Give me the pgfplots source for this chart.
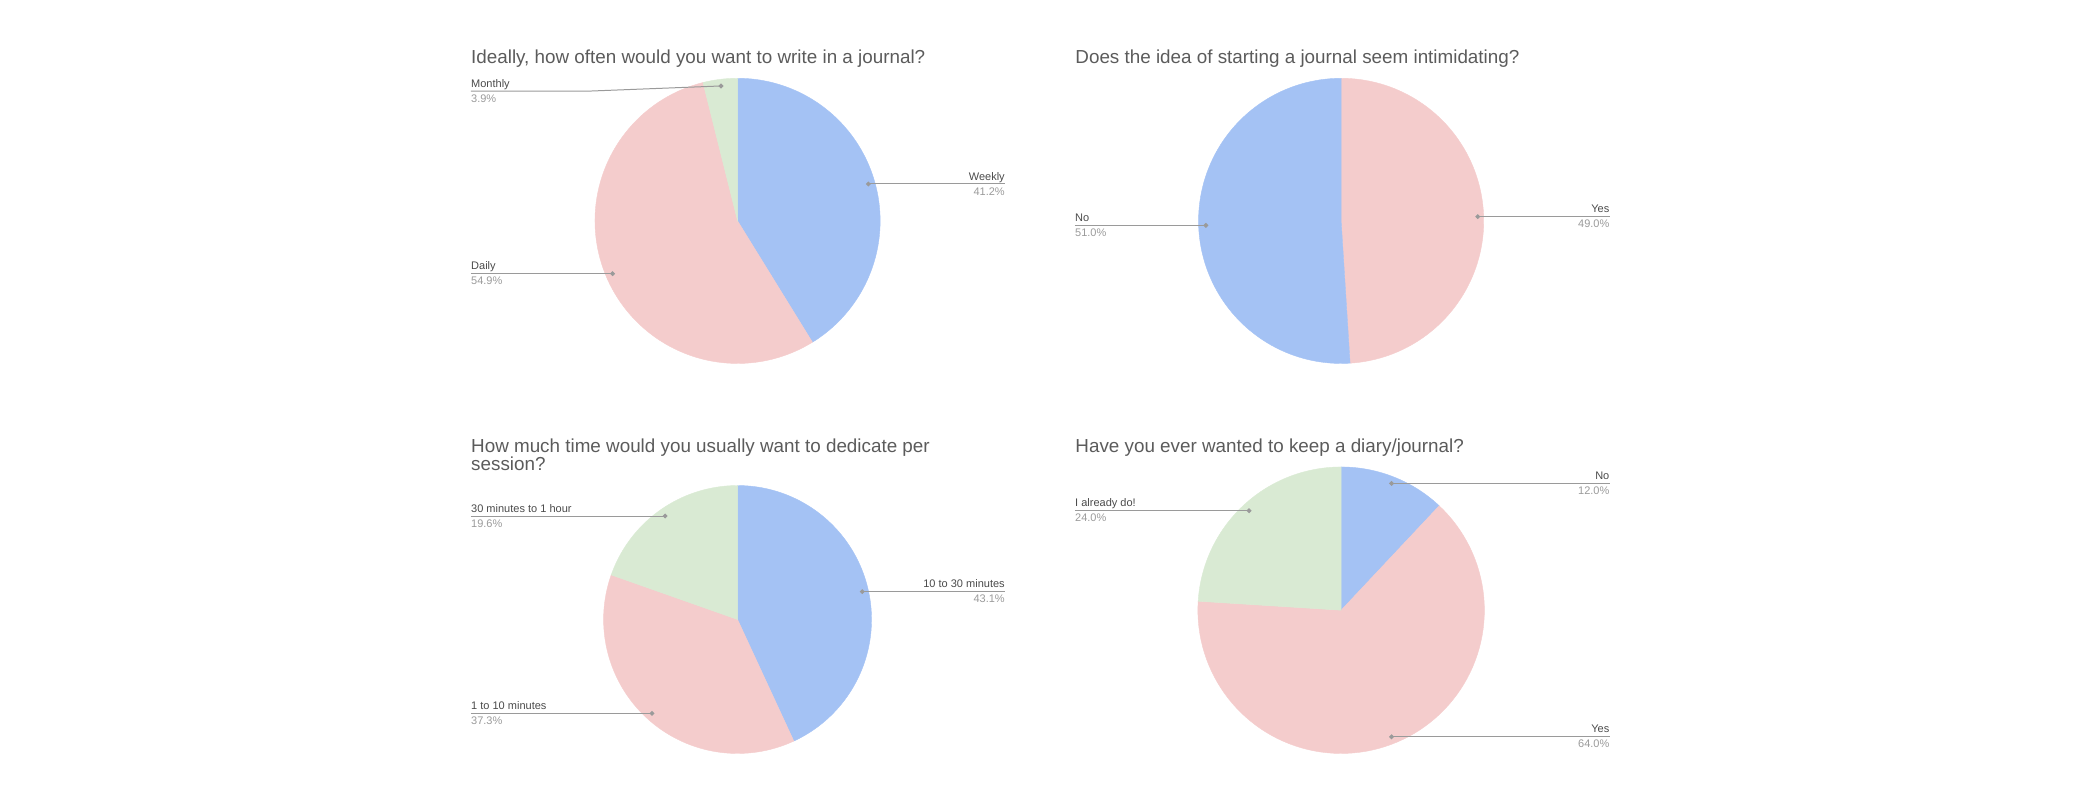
\documentclass[border=0pt]{standalone}
\usepackage{fontspec}
\setmainfont{Liberation Sans}
\usepackage{pgfplots}
\pgfplotsset{compat=1.18}
\definecolor{cblue}{HTML}{A4C2F4}
\definecolor{cpink}{HTML}{F4CCCC}
\definecolor{cgreen}{HTML}{D9EAD3}
\definecolor{ctitle}{HTML}{5B5B5B}
\definecolor{cname}{HTML}{4A4A4A}
\definecolor{cpct}{HTML}{9A9A9A}
\definecolor{cline}{HTML}{9A9A9A}
\newcommand{\tfont}{\fontsize{14.2}{17}\selectfont}
\newcommand{\lfont}{\fontsize{8.3}{10}\selectfont}
% label: x, line y, name, pct
\newcommand{\labL}[4]{%
  \node[anchor=base west,inner sep=0,text=cname,font=\lfont] at (axis cs:#1,#2-3) {#3};
  \node[anchor=base west,inner sep=0,text=cpct,font=\lfont] at (axis cs:#1,#2+8.3) {#4};}
\newcommand{\labR}[4]{%
  \node[anchor=base east,inner sep=0,text=cname,font=\lfont] at (axis cs:#1,#2-3) {#3};
  \node[anchor=base east,inner sep=0,text=cpct,font=\lfont] at (axis cs:#1,#2+8.3) {#4};}
\pgfplotsset{
  slice/.style={draw=#1, line width=0.3pt, fill=#1, samples=90},
  leader/.style={cline, line width=0.75pt, mark=*, mark size=1.4pt,
    mark options={fill=cline, draw=cline}},
}
\begin{document}
\begin{tikzpicture}
\begin{axis}[width=1568pt, height=603pt, scale only axis,
  xmin=0, xmax=1568, ymin=0, ymax=603, y dir=reverse,
  hide axis, clip=false]
\addplot[draw=none] coordinates {(0,0) (1568,603)};

% ---- Pie 1: Weekly 41.2, Daily 54.9, Monthly 3.9
\addplot[slice=cblue, domain=0:148.32] ({556+107.5*sin(x)},{166.5-107.5*cos(x)}) -- (axis cs:556,166.5) -- cycle;
\addplot[slice=cpink, domain=148.32:345.96] ({556+107.5*sin(x)},{166.5-107.5*cos(x)}) -- (axis cs:556,166.5) -- cycle;
\addplot[slice=cgreen, domain=345.96:360] ({556+107.5*sin(x)},{166.5-107.5*cos(x)}) -- (axis cs:556,166.5) -- cycle;

% ---- Pie 2: Yes 49.0, No 51.0
\addplot[slice=cpink, domain=0:176.4] ({1011+107.5*sin(x)},{166.5-107.5*cos(x)}) -- (axis cs:1011,166.5) -- cycle;
\addplot[slice=cblue, domain=176.4:360] ({1011+107.5*sin(x)},{166.5-107.5*cos(x)}) -- (axis cs:1011,166.5) -- cycle;

% ---- Pie 3: 10-30 min 43.1, 1-10 min 37.3, 30 min-1 h 19.6
\addplot[slice=cblue, domain=0:155.16] ({556+101*sin(x)},{467-101*cos(x)}) -- (axis cs:556,467) -- cycle;
\addplot[slice=cpink, domain=155.16:289.44] ({556+101*sin(x)},{467-101*cos(x)}) -- (axis cs:556,467) -- cycle;
\addplot[slice=cgreen, domain=289.44:360] ({556+101*sin(x)},{467-101*cos(x)}) -- (axis cs:556,467) -- cycle;

% ---- Pie 4: No 12.0, Yes 64.0, I already do! 24.0
\addplot[slice=cblue, domain=0:43.2] ({1011+108*sin(x)},{460-108*cos(x)}) -- (axis cs:1011,460) -- cycle;
\addplot[slice=cpink, domain=43.2:273.6] ({1011+108*sin(x)},{460-108*cos(x)}) -- (axis cs:1011,460) -- cycle;
\addplot[slice=cgreen, domain=273.6:360] ({1011+108*sin(x)},{460-108*cos(x)}) -- (axis cs:1011,460) -- cycle;

% ---- leader lines
\addplot[leader, mark indices={3}] coordinates {(355,68.6) (446,68.6) (543.5,64.8)};
\addplot[leader, mark indices={2}] coordinates {(757.6,138.7) (654.6,138.7)};
\addplot[leader, mark indices={2}] coordinates {(355,206.3) (461.8,206.3)};
\addplot[leader, mark indices={2}] coordinates {(1213.4,163.3) (1114,163.3)};
\addplot[leader, mark indices={2}] coordinates {(810.3,169.9) (909,169.9)};
\addplot[leader, mark indices={2}] coordinates {(355,389) (501.4,389)};
\addplot[leader, mark indices={2}] coordinates {(757.6,446) (650,446)};
\addplot[leader, mark indices={2}] coordinates {(355,537.8) (491.5,537.8)};
\addplot[leader, mark indices={2}] coordinates {(1213.4,364.4) (1049,364.4)};
\addplot[leader, mark indices={2}] coordinates {(810.3,385) (941.6,385)};
\addplot[leader, mark indices={2}] coordinates {(1213.4,555.4) (1049,555.4)};

% ---- titles
\node[anchor=base west,inner sep=0,text=ctitle,font=\tfont] at (axis cs:355,47.6) {Ideally, how often would you want to write in a journal?};
\node[anchor=base west,inner sep=0,text=ctitle,font=\tfont] at (axis cs:810.5,47.6) {Does the idea of starting a journal seem intimidating?};
\node[anchor=base west,inner sep=0,text=ctitle,font=\tfont] at (axis cs:355,341) {How much time would you usually want to dedicate per};
\node[anchor=base west,inner sep=0,text=ctitle,font=\tfont] at (axis cs:355,354.5) {session?};
\node[anchor=base west,inner sep=0,text=ctitle,font=\tfont] at (axis cs:810.5,341) {Have you ever wanted to keep a diary/journal?};

% ---- labels
\labL{355}{68.6}{Monthly}{3.9\%}
\labR{757.6}{138.7}{Weekly}{41.2\%}
\labL{355}{206.3}{Daily}{54.9\%}
\labR{1213.4}{163.3}{Yes}{49.0\%}
\labL{810.3}{169.9}{No}{51.0\%}
\labL{355}{389}{30 minutes to 1 hour}{19.6\%}
\labR{757.6}{446}{10 to 30 minutes}{43.1\%}
\labL{355}{537.8}{1 to 10 minutes}{37.3\%}
\labR{1213.4}{364.4}{No}{12.0\%}
\labL{810.3}{385}{I already do!}{24.0\%}
\labR{1213.4}{555.4}{Yes}{64.0\%}
\end{axis}
\end{tikzpicture}
\end{document}
